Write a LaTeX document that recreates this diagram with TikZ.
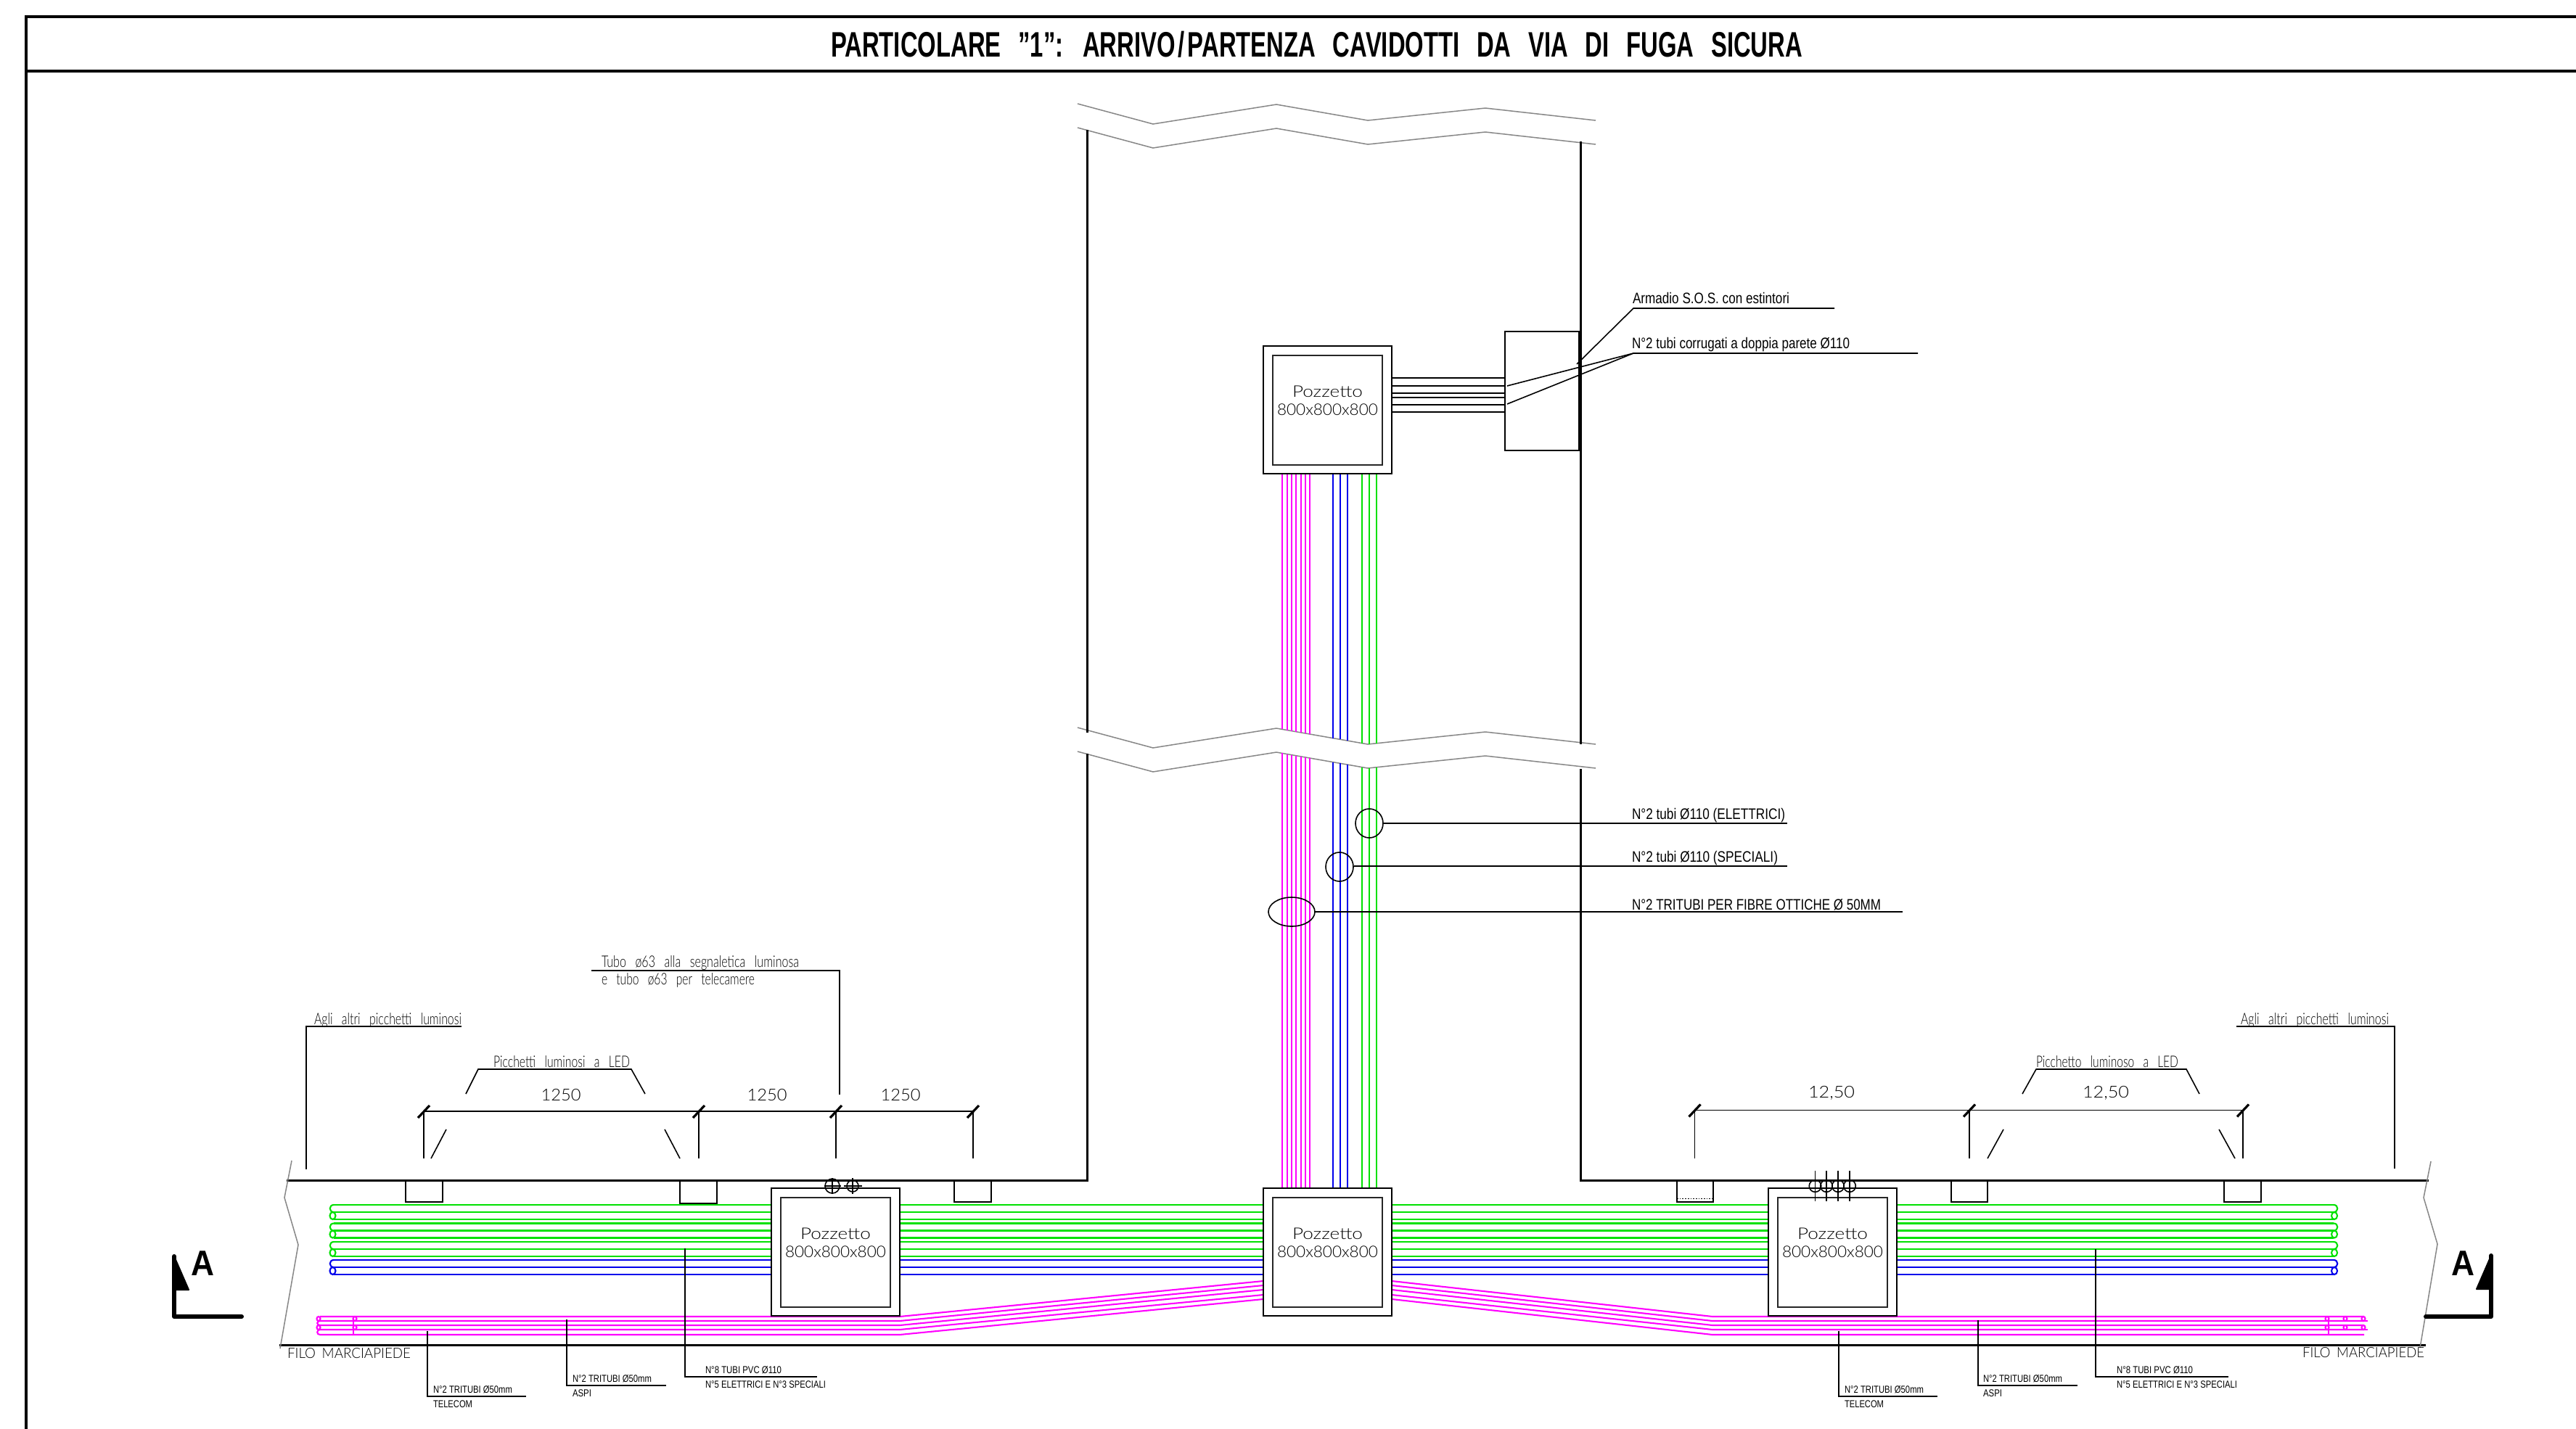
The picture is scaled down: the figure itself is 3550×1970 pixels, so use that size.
\documentclass[tikz,border=0pt]{standalone}
\usepackage{graphicx}
\usepackage{fontspec}
\setmainfont{Liberation Sans}
\newfontfamily\cadthin{Lato Light}
\newfontfamily\cadwide[WordSpace=1.7]{Lato Light}
\newfontfamily\cadbold{Liberation Sans Bold}
\newfontfamily\cadtitle[WordSpace=2.6]{Liberation Sans Bold}
\newdimen\pxu \pxu=0.5pt
% name, x, baseline y, font size pt, width px, font, text
\newcommand{\lab}[7]{\node[anchor=base west,inner sep=0pt,outer sep=0pt] (#1) at (#2,#3) {\resizebox{#5\pxu}{\height}{\fontsize{#4pt}{#4pt}\selectfont #6#7}};}
\newcommand{\cen}[7]{\node[anchor=base,inner sep=0pt,outer sep=0pt] (#1) at (#2,#3) {\resizebox{#5\pxu}{\height}{\fontsize{#4pt}{#4pt}\selectfont #6#7}};}
\definecolor{tubem}{RGB}{255,0,255}
\definecolor{tubeg}{RGB}{0,225,0}
\definecolor{tubeb}{RGB}{0,0,235}
\definecolor{brk}{RGB}{135,135,135}
\tikzset{
  wall/.style={line width=1.5pt,line cap=rect,line join=miter},
  frameline/.style={line width=1.6pt},
  thinl/.style={line width=0.85pt},
  leader/.style={line width=0.8pt},
  breakl/.style={color=brk,line width=0.75pt},
  tickm/.style={line width=1.6pt},
  tm/.style={color=tubem,line width=1.05pt},
  tg/.style={color=tubeg,line width=1.05pt},
  tb/.style={color=tubeb,line width=1.05pt},
  pit/.style={draw,line width=0.9pt},
  inbox/.style={draw,line width=0.95pt,color=black!85},
  arm/.style={line width=3pt,line cap=round,line join=round},
}
\begin{document}
\begin{tikzpicture}[x=0.5pt,y=-0.5pt]
\fill[white] (0,0) rectangle (3550,1970);
\useasboundingbox (0,0) rectangle (3550,1970);
% title frame
\draw[frameline] (3550,23) -- (36,23) -- (36,1970);
\draw[frameline] (36,98) -- (3550,98);
\lab{title}{1145}{78}{24.4}{1339}{\cadtitle}{PARTICOLARE ”1”: ARRIVO\kern0.12em/\kern0.12em PARTENZA CAVIDOTTI DA VIA DI FUGA SICURA}
% break lines
\foreach \d in {0,33,860,893}{
  \draw[breakl] (1485,143+\d) -- (1589,171+\d) -- (1759,144+\d) -- (1885,166+\d) -- (2047,149+\d) -- (2199,166+\d);
}
% walls
\draw[wall] (1498,180) -- (1498,1008);
\draw[wall] (2178,196) -- (2178,1024);
\draw[wall] (396,1627) -- (1498,1627) -- (1498,1040);
\draw[wall] (3345,1627) -- (2178,1627) -- (2178,1061);
\draw[wall] (386,1854) -- (3341,1854);
\draw[breakl] (402,1600) -- (392,1651) -- (411,1716) -- (386,1859);
\draw[breakl] (3350,1601) -- (3340,1651) -- (3359,1715) -- (3335,1858);
% vertical tubes
\foreach \x/\ya in {1767/1005,1774/1007,1780/1008,1786/1009,1793/1010,1799/1011,1805/1012}{
  \draw[tm] (\x,654) -- (\x,\ya);
  \draw[tm] (\x,\ya+33) -- (\x,1638);
}
\foreach \x/\ya in {1837/1018,1847/1019,1857/1021}{
  \draw[tb] (\x,654) -- (\x,\ya);
  \draw[tb] (\x,\ya+33) -- (\x,1638);
}
\foreach \x/\ya in {1877/1025,1887/1026,1897/1025}{
  \draw[tg] (\x,654) -- (\x,\ya);
  \draw[tg] (\x,\ya+33) -- (\x,1638);
}
% horizontal tubes
\foreach \y in {1661,1671,1681,1686.5,1696.5,1706.5,1712,1722,1732}{
  \foreach \a/\b in {460/1063,1240/1741,1918/2437,2614/3216}{ \draw[tg] (\a,\y) -- (\b,\y); }
}
\foreach \y in {1737,1747,1757}{
  \foreach \a/\b in {460/1063,1240/1741,1918/2437,2614/3216}{ \draw[tb] (\a,\y) -- (\b,\y); }
}
\foreach \p/\q/\s in {tg/1661/10,tg/1686.5/10,tg/1712/10,tb/1737/10}{
  \draw[\p] (460,\q) .. controls (453,\q) and (453,\q+\s) .. (460,\q+\s);
  \draw[\p] (458.5,\q+15) ellipse [x radius=4,y radius=5];
  \draw[\p] (3216,\q) .. controls (3223,\q) and (3223,\q+\s) .. (3216,\q+\s);
  \draw[\p] (3217,\q+15) ellipse [x radius=4,y radius=5];
}
% magenta horizontal and sloped
\foreach \yh/\ys in {1815/1766,1821/1772,1827/1778,1833/1785,1840/1791}{
  \draw[tm,line join=round] (441,\yh) -- (1240,\yh) -- (1741,\ys);
  \draw[tm,line join=round] (1918,\ys) -- (2360,\yh) -- (3258,\yh);
}
\draw[tm] (3258,1821) -- (3263,1821);
\draw[tm] (3258,1833) -- (3263,1833);
\draw[tm] (441,1821) .. controls (436,1821) and (436,1827) .. (441,1827);
\draw[tm] (441,1833) .. controls (436,1833) and (436,1840) .. (441,1840);
\foreach \x in {439,489,3207,3232,3257}{
  \draw[tm] (\x,1818) ellipse [x radius=2.5,y radius=3];
  \draw[tm] (\x,1830) ellipse [x radius=2.5,y radius=3];
}
\draw[tm] (487,1815) -- (487,1840);
\draw[tm] (3209,1815) -- (3209,1840);
% pozzetti
\foreach \n/\x/\y in {A/1063/1638,B/1741/1638,C/2437/1638,D/1741/477}{
  \fill[white] (\x,\y) rectangle (\x+177,\y+176);
  \draw[pit] (\x,\y) rectangle (\x+177,\y+176);
  \draw[inbox] (\x+13,\y+13) rectangle (\x+164,\y+164);
}
\foreach \n/\x/\y in {a/1151.5/1708,b/1829.5/1708,c/2525.5/1708,d/1829.5/547}{
  \cen{pz\n}{\x}{\y}{11}{97}{\cadthin}{Pozzetto}
  \cen{dm\n}{\x}{\y+25}{11}{139}{\cadthin}{800x800x800}
}
% cabinet
\draw[pit] (2074,457) rectangle (2176,621);
\foreach \y in {521,532,542,548,558,568}{ \draw[thinl] (1918,\y) -- (2074,\y); }
% right upper callouts
\draw[leader] (2173,502) -- (2251,425) -- (2528,425);
\lab{armadio}{2250}{418}{10.5}{216}{}{Armadio S.O.S. con estintori}
\draw[leader] (2077,532) -- (2251,487) -- (2643,487);
\draw[leader] (2077,557) -- (2251,487);
\lab{corrug}{2249}{480}{10.5}{300}{}{N°2 tubi corrugati a doppia parete Ø110}
% ellipses
\draw[leader] (1887,1135) ellipse [x radius=19,y radius=20];
\draw[leader] (1846,1195) ellipse [x radius=19,y radius=20];
\draw[leader] (1780,1257) ellipse [x radius=32,y radius=20];
\draw[leader] (1906,1135) -- (2463,1135);
\draw[leader] (1866,1194) -- (2463,1194);
\draw[leader] (1812,1257) -- (2622,1257);
\lab{elet}{2249}{1129}{10.5}{211}{}{N°2 tubi Ø110 (ELETTRICI)}
\lab{spec}{2249}{1188}{10.5}{201}{}{N°2 tubi Ø110 (SPECIALI)}
\lab{fibre}{2249}{1254}{10.5}{343}{}{N°2 TRITUBI PER FIBRE OTTICHE Ø 50MM}
% pickets
\foreach \x/\w/\h in {559/51/30,937/51/32,1315/51/30,2311/50/30,2689/50/30,3065/51/30}{
  \draw[pit] (\x,1627) -- (\x,1627+\h) -- (\x+\w,1627+\h) -- (\x+\w,1627);
}
\draw[thinl,densely dotted] (2311,1652.5) -- (2361,1652.5);
% dimensions left
\draw[leader] (584,1532) -- (1341,1532);
\foreach \x in {584,963,1152,1341}{
  \draw[leader] (\x,1532) -- (\x,1597);
  \draw[tickm] (\x-8,1541) -- (\x+8,1524);
}
\cen{da}{773}{1517}{11.3}{55}{\cadthin}{1250}
\cen{db}{1057}{1517}{11.3}{55}{\cadthin}{1250}
\cen{dc}{1241}{1517}{11.3}{55}{\cadthin}{1250}
% dimensions right
\draw[leader] (2335.5,1530.5) -- (3091,1530.5);
\foreach \x in {2335.5,2714,3091}{
  \draw[leader] (\x,1530.5) -- (\x,1597);
  \draw[tickm] (\x-8,1539.5) -- (\x+8,1522.5);
}
\cen{dd}{2524}{1513}{11.3}{64}{\cadthin}{12,50}
\cen{de}{2902}{1513}{11.3}{64}{\cadthin}{12,50}
% picket leaders left
\draw[leader] (642,1508) -- (659,1474) -- (870,1474) -- (889,1508);
\draw[leader] (615,1557) -- (594,1597);
\draw[leader] (916,1557) -- (937,1597);
\lab{picl}{680}{1471}{11}{188}{\cadwide}{Picchetti luminosi a LED}
\draw[leader] (422,1612) -- (422,1415) -- (636,1415);
\lab{agl}{433}{1412}{11}{203}{\cadwide}{Agli altri picchetti luminosi}
\draw[leader] (815,1338) -- (1157,1338) -- (1157,1509);
\lab{tubo}{829}{1333}{11}{272}{\cadwide}{Tubo ø63 alla segnaletica luminosa}
\lab{tubb}{829}{1357}{11}{211}{\cadwide}{e tubo ø63 per telecamere}
% picket leaders right
\draw[leader] (2787,1508) -- (2806,1474) -- (3013,1474) -- (3031,1508);
\draw[leader] (2761,1557) -- (2739,1597);
\draw[leader] (3058,1557) -- (3080,1597);
\lab{picr}{2806}{1471}{11}{196}{\cadwide}{Picchetto luminoso a LED}
\draw[leader] (3082,1415) -- (3300,1415) -- (3300,1611);
\lab{agr}{3088}{1412}{11}{204}{\cadwide}{Agli altri picchetti luminosi}
% pipe symbols
\foreach \x/\r/\h in {1147/10/11.5,1175/8/12.5}{
  \draw[leader] (\x,1635) ellipse [x radius=\r,y radius=\r];
  \draw[leader] (\x,1624) -- (\x,1646);
  \draw[leader] (\x-\h,1635) -- (\x+\h,1635);
}
\foreach \x in {2501.5,2517,2533,2549}{
  \draw[leader] (\x,1635) ellipse [x radius=8.3,y radius=8.3];
  \draw[leader] (\x,1614) -- (\x,1656);
}
% section marks
\draw[arm] (240,1732) -- (240,1815) -- (333,1815);
\fill[line width=1pt,draw,line join=round] (240,1732) -- (260,1778) -- (240,1778) -- cycle;
\cen{seca}{279}{1758}{24.5}{32}{\cadbold}{A}
\draw[arm] (3433,1731) -- (3433,1815) -- (3343,1815);
\fill[line width=1pt,draw,line join=round] (3433,1731) -- (3413,1777) -- (3433,1777) -- cycle;
\cen{secb}{3394}{1758}{24.5}{32}{\cadbold}{A}
% filo
\lab{filol}{396}{1872}{9.8}{170}{\cadwide}{FILO MARCIAPIEDE}
\lab{filor}{3173}{1871}{9.8}{168}{\cadwide}{FILO MARCIAPIEDE}
% bottom callouts
\draw[leader] (589,1835) -- (589,1925) -- (725,1925);
\lab{t1a}{597}{1920}{7}{109}{}{N°2 TRITUBI Ø50mm}
\lab{t1b}{597}{1940}{7}{54}{}{TELECOM}
\draw[leader] (781,1819) -- (781,1910) -- (918,1910);
\lab{t2a}{789}{1905}{7}{109}{}{N°2 TRITUBI Ø50mm}
\lab{t2b}{789}{1925}{7}{26}{}{ASPI}
\draw[leader] (944,1721) -- (944,1898) -- (1126,1898);
\lab{t3a}{972}{1893}{7}{105}{}{N°8 TUBI PVC Ø110}
\lab{t3b}{972}{1913}{7}{166}{}{N°5 ELETTRICI E N°3 SPECIALI}
\draw[leader] (2534,1835) -- (2534,1925) -- (2670,1925);
\lab{t4a}{2542}{1920}{7}{109}{}{N°2 TRITUBI Ø50mm}
\lab{t4b}{2542}{1940}{7}{54}{}{TELECOM}
\draw[leader] (2726,1820) -- (2726,1910) -- (2863,1910);
\lab{t5a}{2733}{1905}{7}{109}{}{N°2 TRITUBI Ø50mm}
\lab{t5b}{2733}{1925}{7}{26}{}{ASPI}
\draw[leader] (2888,1722) -- (2888,1898) -- (3071,1898);
\lab{t6a}{2917}{1893}{7}{105}{}{N°8 TUBI PVC Ø110}
\lab{t6b}{2917}{1913}{7}{166}{}{N°5 ELETTRICI E N°3 SPECIALI}
\end{tikzpicture}
\end{document}
